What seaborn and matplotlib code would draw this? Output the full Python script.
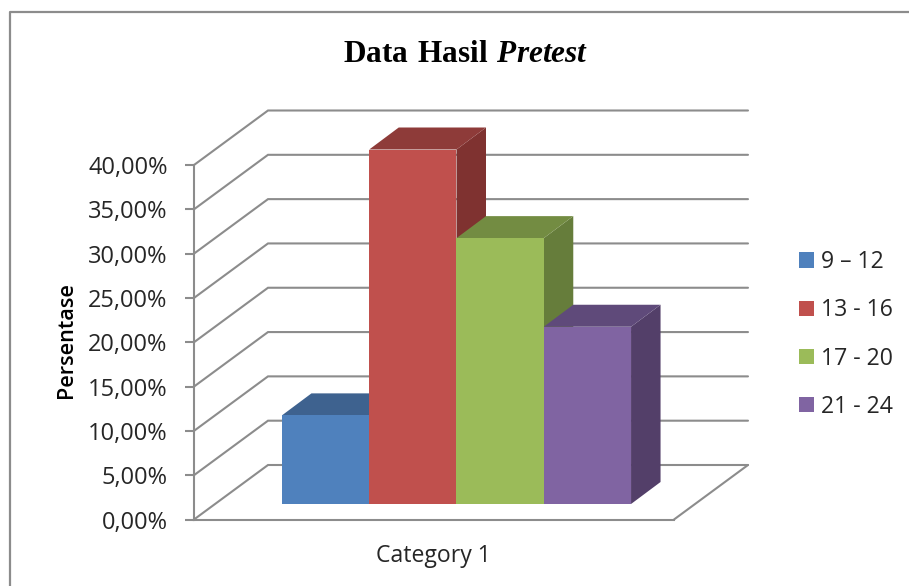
import matplotlib
matplotlib.use("Agg")
import matplotlib.pyplot as plt
import seaborn as sns
import pandas as pd
from matplotlib.lines import Line2D
from matplotlib.patches import Polygon

# ── Data ───────────────────────────────────────────────
category = ["Category 1"]
groups = ["9 – 12", "13 - 16", "17 - 20", "21 - 24"]
percent = [10, 40, 30, 20]
ticks = [0, 5, 10, 15, 20, 25, 30, 35, 40]
tick_labels = ["0,00%", "5,00%", "10,00%", "15,00%", "20,00%",
               "25,00%", "30,00%", "35,00%", "40,00%"]

# ── Style ──────────────────────────────────────────────
FRONT = ["#4F81BD", "#C0504D", "#9BBB59", "#8064A2"]
TOP = ["#3E628F", "#8E3B39", "#738C42", "#5F4A7A"]
SIDE = ["#3A5A84", "#7F3230", "#667D3B", "#533F69"]
GREY = "#8C8C8C"
TEXT = "#262626"

sns.set_theme(style="white")
plt.rcParams.update({
    "font.family": "Open Sans",
    "mathtext.fontset": "custom",
    "mathtext.bf": "Liberation Serif:bold",
    "mathtext.bfit": "Liberation Serif:italic:bold",
    "mathtext.rm": "Liberation Serif:bold",
})

W, H = 909, 586
fig = plt.figure(figsize=(W / 100, H / 100), dpi=100, facecolor="white")


def box(left, right, bottom, top):
    # pixel box (from top left of the image) to figure fractions
    return [left / W, 1 - bottom / H, (right - left) / W, (bottom - top) / H]


# outer frame runs off the right and bottom of the picture
fig.add_artist(Line2D([10 / W, 10 / W, 1], [0, 1 - 12 / H, 1 - 12 / H],
                      color=GREY, lw=1.6, transform=fig.transFigure))

# ── Walls and floor ────────────────────────────────────
ax = fig.add_axes(box(194, 674, 519.5, 165))
ax.set_xlim(0, 480)
ax.set_ylim(0, 40)
ax.patch.set_alpha(0)
depth_x = 74
depth_y = 54.5 / (354.5 / 40)

for t in ticks:
    ax.plot([0, depth_x, 480 + depth_x], [t, t + depth_y, t + depth_y],
            color=GREY, lw=1.5, clip_on=False, solid_joinstyle="miter")
ax.plot([480, 480 + depth_x], [0, depth_y], color=GREY, lw=1.5, clip_on=False)

for name, spine in ax.spines.items():
    spine.set_visible(name in ("left", "bottom"))
    spine.set_color(GREY)
    spine.set_linewidth(1.5)

ax.set_xticks([])
ax.set_yticks(ticks)
ax.set_yticklabels(tick_labels, fontsize=17, color=TEXT)
ax.tick_params(axis="y", left=True, length=6.5, width=1.5, color=GREY, pad=12.5)
ax.set_ylabel("Persentase", fontsize=15.6, color="black", fontweight="semibold")
ax.yaxis.set_label_coords((77 - 194) / 480, 0.505)

# ── Bars ───────────────────────────────────────────────
df = pd.DataFrame({
    "category": category * len(groups),
    "group": groups,
    "percent": percent,
})

ax_bar = fig.add_axes(box(216.5, 696.5, 504, 149.5))
ax_bar.patch.set_alpha(0)
sns.barplot(data=df, x="category", y="percent", hue="group", hue_order=groups,
            palette=FRONT, saturation=1, width=0.8, gap=0, linewidth=0,
            ax=ax_bar)
ax_bar.set_xlim(-0.55, 0.55)
ax_bar.set_ylim(0, 40)
ax_bar.axis("off")

handles, labels = ax_bar.get_legend_handles_labels()
ax_bar.get_legend().remove()

bar_dx = 29.5 * 1.1 / 480
bar_dy = 22 * 40 / 354.5
for i, bar in enumerate(ax_bar.patches[:len(groups)]):
    x0, x1 = bar.get_x(), bar.get_x() + bar.get_width()
    h = bar.get_height()
    bar.set_zorder(3)
    ax_bar.add_patch(Polygon(
        [(x1, 0), (x1 + bar_dx, bar_dy), (x1 + bar_dx, h + bar_dy), (x1, h)],
        closed=True, fc=SIDE[i], ec="none", zorder=1 + i * 0.1, clip_on=False))
    ax_bar.add_patch(Polygon(
        [(x0, h), (x0 + bar_dx, h + bar_dy), (x1 + bar_dx, h + bar_dy), (x1, h)],
        closed=True, fc=TOP[i], ec="none", zorder=1 + i * 0.1, clip_on=False))

# ── Text ───────────────────────────────────────────────
fig.text(465.5 / W, 1 - 54 / H, r"$\mathbf{Data\ Hasil}\ \mathbfit{Pretest}$",
         ha="center", va="center", fontsize=22.5, color="black")
fig.text(433 / W, 1 - 556 / H, category[0], ha="center", va="center",
         fontsize=16.6, color=TEXT)

fig.legend(handles, labels, loc="center left",
           bbox_to_anchor=(799 / W, 1 - 334.5 / H), frameon=False,
           fontsize=16.6, labelcolor=TEXT, handlelength=0.66, handleheight=0.66,
           handletextpad=0.3, labelspacing=1.05, borderpad=0, borderaxespad=0)

plt.savefig("out.png", dpi=100, facecolor="white")
plt.close(fig)
